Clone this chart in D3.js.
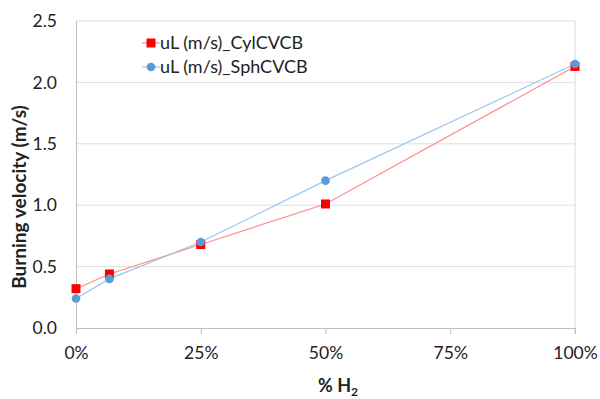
<!DOCTYPE html>
<html>
<head>
<meta charset="utf-8">
<script src="https://cdn.jsdelivr.net/npm/d3@7"></script>
<style>
  body { margin: 0; background: #fff; }
  text { font-family: Lato, "Open Sans", sans-serif; fill: #222; }
</style>
</head>
<body>
<svg id="chart" width="600" height="399"></svg>
<script>
var h2 = [0, 0.067, 0.25, 0.5, 1.0];
var cyl = [0.32, 0.44, 0.68, 1.01, 2.13];
var sph = [0.24, 0.40, 0.70, 1.20, 2.15];
var yTicks = [0, 0.5, 1.0, 1.5, 2.0, 2.5];
var xTicks = [0, 0.25, 0.5, 0.75, 1.0];
var seriesNames = ["uL (m/s)_CylCVCB", "uL (m/s)_SphCVCB"];

var svg = d3.select("#chart"),
  margin = { top: 21, right: 25, bottom: 71, left: 76 },
  width = 600 - margin.left - margin.right,
  height = 399 - margin.top - margin.bottom;

var x = d3.scaleLinear().domain([0, 1]).range([0, width]);
var y = d3.scaleLinear().domain([0, 2.5]).range([height, 0]);

var g = svg.append("g").attr("transform", "translate(" + margin.left + "," + margin.top + ")");

// gridlines
g.selectAll(".grid").data(yTicks.slice(1)).join("line").attr("class", "grid")
  .attr("x1", 0).attr("x2", width)
  .attr("y1", d => y(d)).attr("y2", d => y(d))
  .attr("stroke", "#dedede").attr("stroke-width", 1);

// right border
g.append("line").attr("x1", width).attr("x2", width).attr("y1", 0).attr("y2", height + 6)
  .attr("stroke", "#d9d9d9");

// y axis
var yAxis = g.append("g")
  .call(d3.axisLeft(y).tickValues(yTicks).tickFormat(d3.format(".1f")).tickSize(0).tickPadding(19));
yAxis.select(".domain").attr("stroke", "#bfbfbf");
yAxis.selectAll("text").style("font-size", "17.5px").style("fill", "#222");

// x axis
var xAxis = g.append("g").attr("transform", "translate(0," + height + ")")
  .call(d3.axisBottom(x).tickValues(xTicks).tickFormat(d3.format(".0%")).tickSize(6).tickSizeOuter(0).tickPadding(13));
xAxis.select(".domain").attr("stroke", "#bfbfbf");
xAxis.selectAll(".tick line").attr("stroke", "#bfbfbf");
xAxis.selectAll("text").style("font-size", "17.5px").style("fill", "#222");

var line = d3.line().x((d, i) => x(h2[i])).y(d => y(d));

// series lines
g.append("path").datum(cyl).attr("d", line).attr("fill", "none").attr("stroke", "#ff8c8c").attr("stroke-width", 1.2);
g.append("path").datum(sph).attr("d", line).attr("fill", "none").attr("stroke", "#9cc5ea").attr("stroke-width", 1.2);

// markers
g.selectAll(".cylpt").data(cyl).join("rect").attr("class", "cylpt")
  .attr("x", (d, i) => x(h2[i]) - 4.5).attr("y", d => y(d) - 4.5)
  .attr("width", 9).attr("height", 9).attr("fill", "#ff0000");
g.selectAll(".sphpt").data(sph).join("circle").attr("class", "sphpt")
  .attr("cx", (d, i) => x(h2[i])).attr("cy", d => y(d)).attr("r", 4.3)
  .attr("fill", "#5b9bd5");

// legend
var legend = svg.append("g").attr("transform", "translate(140,0)");
var lg = legend.selectAll(".lg").data(seriesNames).join("g").attr("class", "lg")
  .attr("transform", (d, i) => "translate(0," + (43 + i * 24) + ")");
lg.append("line").attr("x1", 2).attr("x2", 20).attr("y1", 0).attr("y2", 0)
  .attr("stroke", (d, i) => i == 0 ? "#ff8c8c" : "#9cc5ea").attr("stroke-width", 1.2);
lg.filter((d, i) => i == 0).append("rect").attr("x", 6.5).attr("y", -4.5).attr("width", 9).attr("height", 9).attr("fill", "#ff0000");
lg.filter((d, i) => i == 1).append("circle").attr("cx", 11).attr("cy", 0).attr("r", 4.3).attr("fill", "#5b9bd5");
lg.append("text").attr("x", 20).attr("y", 6).style("font-size", "18px").text(d => d);

// axis titles
svg.append("text").attr("transform", "translate(26,197) rotate(-90)")
  .attr("text-anchor", "middle").style("font-size", "19px").style("font-weight", "bold")
  .text("Burning velocity (m/s)");

var xt = svg.append("text").attr("x", 338).attr("y", 392)
  .attr("text-anchor", "middle").style("font-size", "18px").style("font-weight", "bold");
xt.append("tspan").text("% H");
xt.append("tspan").attr("dy", 4).style("font-size", "12px").text("2");
</script>
</body>
</html>
